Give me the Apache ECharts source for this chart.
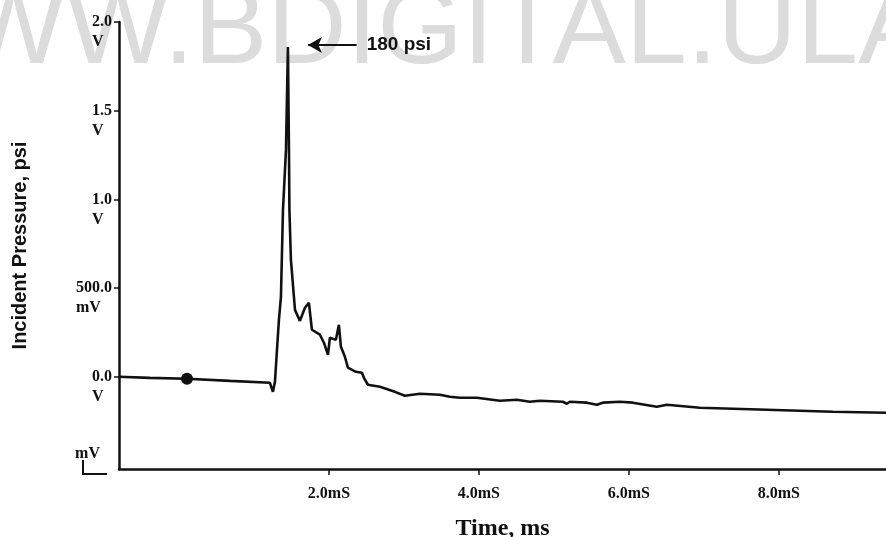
<!DOCTYPE html>
<html>
<head>
<meta charset="utf-8">
<script src="https://cdn.jsdelivr.net/npm/echarts@6/dist/echarts.min.js"></script>
<style>
  html, body { margin: 0; padding: 0; background: #fff; }
  #main { width: 886px; height: 537px; }
</style>
</head>
<body>
<div id="main"></div>
<script>
// trace: time in ms, signal in V
var traceT = [-0.80, -0.39, 0.107, 0.68, 1.213, 1.253, 1.28, 1.307, 1.333, 1.36, 1.387, 1.427, 1.453,
  1.467, 1.473, 1.493, 1.533, 1.547, 1.613, 1.68, 1.733, 1.773, 1.88, 1.933, 1.987, 2.013, 2.093,
  2.133, 2.16, 2.213, 2.253, 2.36, 2.44, 2.467, 2.52, 2.68, 2.88, 3.013, 3.213, 3.48, 3.613, 3.747,
  3.973, 4.28, 4.507, 4.68, 4.813, 5.12, 5.173, 5.213, 5.44, 5.573, 5.653, 5.88, 6.053, 6.373,
  6.507, 6.947, 7.84, 8.72, 9.43];
var traceV = [0.0, -0.006, -0.011, -0.023, -0.034, -0.085, -0.028, 0.152, 0.321, 0.451, 0.941, 1.279, 1.859,
  1.279, 0.941, 0.659, 0.451, 0.377, 0.315, 0.389, 0.417, 0.265, 0.237, 0.192, 0.124, 0.220, 0.208,
  0.293, 0.169, 0.113, 0.051, 0.028, 0.023, -0.006, -0.045, -0.056, -0.085, -0.107, -0.096, -0.101, -0.113, -0.118,
  -0.118, -0.135, -0.130, -0.141, -0.135, -0.141, -0.152, -0.141, -0.146, -0.158, -0.146, -0.141, -0.146, -0.169,
  -0.158, -0.175, -0.186, -0.197, -0.203];

// trigger dot
var triggerT = [0.107];
var triggerV = [-0.011];

// peak callout
var peakText = '180 psi';
var arrowFrom = [2.37, 1.87];
var arrowTo = [1.72, 1.87];

// axis ticks
var xTickVals = [2, 4, 6, 8];
var yTickVals = [-0.5, 0, 0.5, 1.0, 1.5, 2.0];
var yTickText = ['', '0.0', '500.0', '1.0', '1.5', '2.0'];
var yTickUnit = ['mV', 'V', 'mV', 'V', 'V', 'V'];

var watermark = 'WWW.BDIGITAL.ULA.VE';

var traceData = [];
for (var i = 0; i < traceT.length; i++) {
  traceData.push([traceT[i], traceV[i]]);
}
var triggerData = [];
for (var j = 0; j < triggerT.length; j++) {
  triggerData.push([triggerT[j], triggerV[j]]);
}

var labelFont = 'Liberation Serif';
var myChart = echarts.init(document.getElementById('main'));

var option = {
  backgroundColor: '#fff',
  animation: false,
  grid: { left: 119, right: 0, top: 22, bottom: 68, outerBoundsMode: 'none', containLabel: false },
  graphic: [
    {
      type: 'text', z: -10, silent: true,
      x: -142, y: 33,
      style: {
        text: watermark, fill: '#dcdcdc',
        font: '110px "Liberation Sans", Arial, sans-serif',
        textAlign: 'left', textVerticalAlign: 'middle'
      }
    },
    {
      type: 'polyline', silent: true,
      shape: { points: [[83, 460], [83, 474], [107, 474]] },
      style: { stroke: '#111', lineWidth: 2, fill: null }
    }
  ],
  xAxis: {
    type: 'value',
    min: -0.8,
    max: 9.43,
    name: 'Time, ms',
    nameLocation: 'middle',
    nameGap: 48,
    nameTextStyle: { fontFamily: labelFont, fontWeight: 'bold', fontSize: 24, color: '#111' },
    splitLine: { show: false },
    axisLine: { onZero: false, lineStyle: { color: '#111', width: 2.5 } },
    axisTick: { customValues: xTickVals, length: 6, lineStyle: { color: '#111', width: 1.5 } },
    axisLabel: {
      customValues: xTickVals,
      margin: 17,
      fontFamily: labelFont, fontWeight: 'bold', fontSize: 16, color: '#111',
      formatter: function (v) { return v.toFixed(1) + 'mS'; }
    }
  },
  yAxis: {
    type: 'value',
    min: -0.52,
    max: 2.0,
    name: 'Incident Pressure, psi',
    nameLocation: 'middle',
    nameRotate: 90,
    nameGap: 89,
    nameTextStyle: { fontFamily: '"Liberation Sans", Arial, sans-serif', fontWeight: 'bold', fontSize: 20, color: '#111' },
    splitLine: { show: false },
    axisLine: { onZero: false, lineStyle: { color: '#111', width: 2.5 } },
    axisTick: { customValues: yTickVals.slice(1), length: 5, lineStyle: { color: '#111', width: 1.5 } },
    axisLabel: {
      customValues: yTickVals,
      showMinLabel: true,
      margin: 7,
      verticalAlign: 'middle',
      fontFamily: labelFont, fontWeight: 'bold', fontSize: 16, color: '#111',
      formatter: function (v) {
        var k = -1;
        for (var n = 0; n < yTickVals.length; n++) {
          if (Math.abs(yTickVals[n] - v) < 1e-6) k = n;
        }
        if (k < 0) return '';
        if (yTickText[k] === '') return '{m|' + yTickUnit[k] + '}\n{e2| }';
        var u = yTickText[k].length > 3 ? 'u5' : 'u3';
        return '{e| }\n{v|' + yTickText[k] + '}\n{' + u + '|' + yTickUnit[k] + '}';
      },
      rich: {
        e: { lineHeight: 20, fontSize: 16 },
        e2: { lineHeight: 24, fontSize: 16 },
        v: { lineHeight: 20, fontSize: 16, fontFamily: labelFont, fontWeight: 'bold', color: '#111' },
        u3: { lineHeight: 20, width: 20, align: 'left', fontSize: 16, fontFamily: labelFont, fontWeight: 'bold', color: '#111' },
        u5: { lineHeight: 20, width: 36, align: 'left', fontSize: 16, fontFamily: labelFont, fontWeight: 'bold', color: '#111' },
        m: { lineHeight: 20, fontSize: 16, fontFamily: labelFont, fontWeight: 'bold', color: '#111', padding: [0, 12, 0, 0] }
      }
    }
  },
  series: [
    {
      name: 'trace',
      type: 'line',
      data: traceData,
      showSymbol: false,
      lineStyle: { color: '#111', width: 2.6 },
      z: 3,
      markLine: {
        silent: true,
        symbol: ['none', 'arrow'],
        symbolSize: [12, 14],
        lineStyle: { color: '#111', width: 2, type: 'solid' },
        label: {
          show: true,
          position: 'start',
          distance: 10,
          formatter: peakText,
          fontFamily: '"Liberation Sans", Arial, sans-serif',
          fontWeight: 'bold',
          fontSize: 19,
          color: '#111'
        },
        data: [[{ coord: arrowFrom }, { coord: arrowTo }]]
      }
    },
    {
      name: 'trigger',
      type: 'scatter',
      data: triggerData,
      symbolSize: 12,
      itemStyle: { color: '#111', opacity: 1 },
      z: 4
    }
  ]
};
myChart.setOption(option);
</script>
</body>
</html>
